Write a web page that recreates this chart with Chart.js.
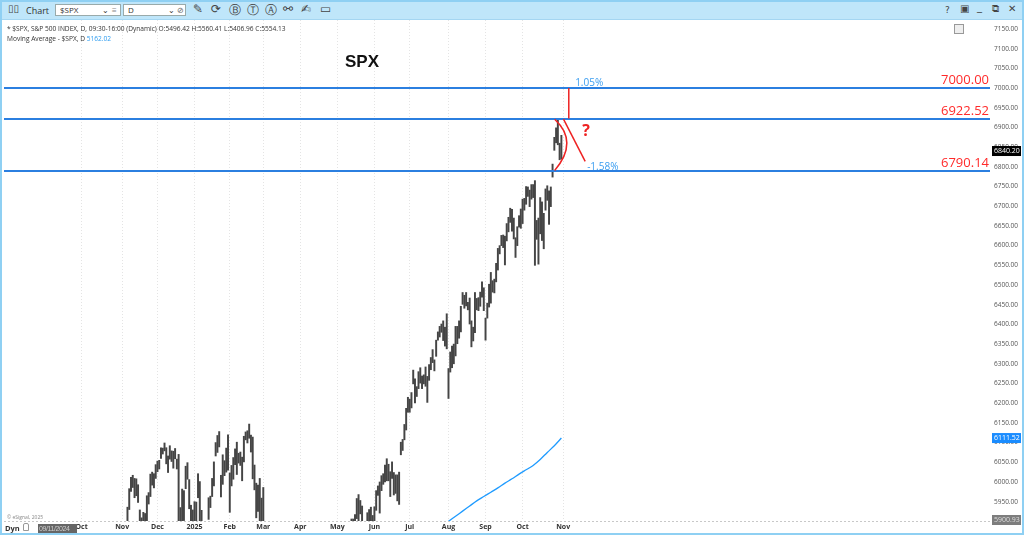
<!DOCTYPE html>
<html>
<head>
<meta charset="utf-8">
<script src="https://cdn.jsdelivr.net/npm/chart.js@4.4.1/dist/chart.umd.min.js"></script>
<style>
html,body{margin:0;padding:0;background:#fff;overflow:hidden}
#wrap{position:relative;width:1024px;height:535px;font-family:"Open Sans","Noto Sans",sans-serif;color:#333}
#c{position:absolute;left:0;top:0}
#bar{position:absolute;left:0;top:0;width:1024px;height:20px;background:#bfe6fa;border-bottom:1px solid #a4d6f2;box-sizing:border-box}
#frame{position:absolute;left:0;top:0;width:1024px;height:535px;border:2px solid #8fd0f3;box-sizing:border-box;pointer-events:none}
.t{position:absolute;white-space:nowrap}
.box{position:absolute;top:4px;height:12px;background:#fff;border:1px solid #9aa;box-sizing:border-box;font-size:8px;line-height:10px;padding-left:4px}
.ic{position:absolute;top:2px;font-size:12px;color:#444;font-family:"DejaVu Sans",sans-serif}
.hdr{position:absolute;left:7px;font-size:6.6px;color:#333;white-space:nowrap}
</style>
</head>
<body>
<div id="wrap">
<canvas id="c" width="1024" height="535"></canvas>
<div id="bar">
  <span class="ic" style="left:8px;top:3px;font-size:10px">▯▯</span>
  <span class="t" style="left:26px;top:4px;font-size:9px;color:#333">Chart</span>
  <div class="box" style="left:55px;width:66px">$SPX<span class="t" style="left:46px;top:0">⌄</span><span class="t" style="left:56px;top:0;color:#888">≡</span></div>
  <div class="box" style="left:123px;width:63px">D<span class="t" style="left:44px;top:0">⌄</span><span class="t" style="left:53px;top:0;color:#666">⊘</span></div>
  <span class="ic" style="left:193px">✎</span>
  <span class="ic" style="left:211px">⟳</span>
  <span class="ic" style="left:229px">Ⓑ</span>
  <span class="ic" style="left:247px">Ⓣ</span>
  <span class="ic" style="left:265px">Ⓐ</span>
  <span class="ic" style="left:283px">⚯</span>
  <span class="ic" style="left:301px">✍</span>
  <span class="ic" style="left:320px">▭</span>
  <span class="ic" style="left:945px;font-size:9px;top:5px">?</span>
  <span class="ic" style="left:960px;font-size:10px;top:3px">▣</span>
  <span class="ic" style="left:977px;font-size:10px;top:1px">_</span>
  <span class="ic" style="left:992px;font-size:10px;top:3px">⧉</span>
  <span class="ic" style="left:1008px;font-size:10px;top:3px">✕</span>
</div>
<div class="hdr" style="top:24px">* $SPX, S&amp;P 500 INDEX, D, 09:30-16:00 (Dynamic) O:5496.42 H:5560.41 L:5406.96 C:5554.13</div>
<div class="hdr" style="top:34px">Moving Average - $SPX, D <span style="color:#2d9cf0">5162.02</span></div>
<div class="t" style="left:954px;top:24px;width:8px;height:8px;border:1px solid #999;background:#eee"></div>
<div class="t" style="left:7px;top:514px;font-size:5px;color:#888">© eSignal, 2025</div>
<div class="t" style="left:5px;top:523px;font-size:7.5px;font-weight:bold;color:#333">Dyn</div>
<div class="t" style="left:23px;top:523px;width:6px;height:8px;border:1px solid #999;border-radius:2px 2px 0 0;box-sizing:border-box"></div>
<div class="t" style="left:38px;top:524px;width:39px;height:9px;background:#666"></div>
<div class="t" style="left:39px;top:524px;color:#ccc;font-size:7px;line-height:9px;letter-spacing:-0.4px;font-family:'Liberation Sans',sans-serif">09/11/2024</div>
<div id="frame"></div>
</div>
<script>
// daily bars, trading-day index 0 = 09/11/2024
const firstIdx = 37
const highs = [
  // Nov 2024
  5772,5741,5783,5936,5983,6012,6017,6009,6008,5993,5929,5909,5923,5920,5965,5973,6020,6025,6021,6044,
  // Dec
  6053,6055,6087,6086,6099,6087,6066,6092,6079,6078,6085,6058,6070,5935,5982,5978,6040,6049,6006,5941,5929,
  // Jan 2025
  5950,5949,6021,6001,5928,5890,5846,5871,5960,5964,6009,6051,6100,6118,6128,6017,6069,6054,6086,6120,
  // Feb
  6023,6042,6062,6084,6101,6073,6076,6063,6116,6127,6130,6147,6119,6114,6043,5997,5992,6009,5959,
  // Mar
  5986,5866,5860,5812,5786,5705,5636,5642,5597,5645,5703,5669,5716,5715,5670,5775,5786,5778,5732,5685,5611,
  // Apr
  5639,5695,5500,5292,5247,5267,5481,5446,5381,5460,5450,5367,5328,5232,5309,5469,5489,5528,5553,5571,5581,
  // May
  5658,5700,5683,5649,5667,5720,5692,5844,5906,5906,5917,5958,5968,5953,5939,5878,5835,5922,5930,5936,5915,
  // Jun
  5937,5978,5990,6000,6016,6021,6043,6059,6045,6026,6051,6024,6018,6018,6025,6101,6108,6146,6187,6215,
  // Jul
  6210,6227,6284,6262,6242,6280,6290,6269,6272,6292,6268,6298,6316,6336,6310,6360,6381,6395,6401,6409,6393,6427,
  // Aug
  6288,6330,6345,6350,6395,6395,6409,6446,6481,6474,6481,6456,6467,6409,6393,6481,6466,6468,6482,6508,6493,
  // Sep
  6416,6454,6502,6532,6511,6515,6555,6593,6600,6626,6627,6624,6656,6672,6695,6692,6670,6620,6648,6676,6693,
  // Oct
  6718,6720,6750,6749,6741,6755,6755,6765,6664,6670,6722,6711,6682,6744,6752,6739,6749,6807,6875,6899,6920,6860,6880
]
const lows = [
  5723,5696,5713,5864,5930,5976,5986,5960,5965,5948,5853,5865,5850,5860,5885,5944,5963,5992,5985,6009,
  6026,6033,6060,6071,6079,6046,6024,6058,6052,6035,6059,6033,5867,5866,5832,5902,5983,6007,5932,5879,5868,
  5830,5888,5960,5890,5874,5809,5773,5802,5905,5935,5963,5990,6066,6075,6089,5962,5994,6016,6025,6030,
  5923,5990,6007,6044,6019,6048,6042,6003,6051,6107,6099,6111,6076,6008,5980,5909,5925,5858,5837,
  5810,5732,5742,5711,5666,5564,5528,5546,5505,5563,5631,5603,5622,5651,5603,5732,5764,5692,5683,5572,5489,
  5539,5552,5390,5069,4835,4910,4857,5102,5220,5359,5386,5220,5255,5101,5207,5356,5371,5455,5468,5505,5433,
  5587,5631,5643,5590,5605,5650,5650,5775,5839,5867,5857,5907,5895,5919,5830,5830,5767,5839,5884,5876,5843,
  5862,5928,5966,5921,5978,5994,6000,6003,6003,5963,6009,5967,5971,5952,5943,6069,6080,6107,6132,6177,
  6177,6188,6249,6201,6217,6237,6251,6237,6249,6243,6202,6258,6285,6303,6282,6319,6360,6368,6380,6359,6345,6338,
  6212,6279,6290,6300,6320,6351,6365,6381,6451,6441,6447,6437,6401,6343,6358,6379,6437,6435,6446,6469,6435,
  6360,6416,6444,6454,6482,6480,6508,6538,6579,6600,6595,6551,6612,6635,6659,6637,6617,6570,6600,6647,6644,
  6656,6690,6705,6725,6699,6718,6722,6550,6616,6553,6630,6613,6592,6690,6715,6654,6699,6774,6842,6861,6856,6818,6820
]

// moving average
const maIdx  = [222,226,230,234,238,242,246,250,254,258,262,266,270,274,278,282,286]
const maVals = [5900,5913,5926,5939,5952,5963,5974,5985,5997,6008,6020,6031,6042,6057,6075,6092,6111.52]

// month ticks (trading-day index of first session)
const monthIdx    = [14,37,57,78,98,117,138,159,180,200,222,243,264,287]
const monthLabels = ['Oct','Nov','Dec','2025','Feb','Mar','Apr','May','Jun','Jul','Aug','Sep','Oct','Nov']

const yTicks = [5950,6000,6050,6100,6150,6200,6250,6300,6350,6400,6450,6500,6550,6600,6650,6700,6750,6800,6850,6900,6950,7000,7050,7100,7150]

const levels      = [7000.00, 6922.52, 6790.14]
const levelLabels = ['7000.00','6922.52','6790.14']
const tagValues   = [6840.20, 6111.52, 5900.93]
const tagLabels   = ['6840.20','6111.52','5900.93']

let bars = []
for(let i=0;i<highs.length;i++){
    bars.push({x:firstIdx+i, y:[lows[i],highs[i]]})
}
let ma = []
for(let i=0;i<maIdx.length;i++){
    ma.push({x:maIdx[i], y:maVals[i]})
}

const overlay = {
    id:'overlay',
    afterDatasetsDraw(chart){
        const {ctx, chartArea:a, scales:{x, y}} = chart
        ctx.save()
        // bottom dotted border
        ctx.strokeStyle = '#c8c8c8'; ctx.lineWidth = 1; ctx.setLineDash([2,2])
        ctx.beginPath(); ctx.moveTo(a.left, a.bottom+0.5); ctx.lineTo(a.right, a.bottom+0.5); ctx.stroke()
        ctx.setLineDash([])

        // horizontal levels
        levels.forEach((v,i) => {
            const py = Math.round(y.getPixelForValue(v))
            ctx.strokeStyle = '#2b7fe0'; ctx.lineWidth = 2
            ctx.beginPath(); ctx.moveTo(a.left, py); ctx.lineTo(a.right, py); ctx.stroke()
            ctx.fillStyle = '#ff2a2a'; ctx.font = '13px "Open Sans"'
            ctx.textAlign = 'right'; ctx.textBaseline = 'alphabetic'
            ctx.fillText(levelLabels[i], a.right-1, py-4)
        })

        // red drawings
        ctx.strokeStyle = '#ee2222'; ctx.lineWidth = 1.5
        ctx.beginPath()
        ctx.moveTo(x.getPixelForValue(290.2), y.getPixelForValue(7000))
        ctx.lineTo(x.getPixelForValue(290.2), y.getPixelForValue(6922.52))
        ctx.stroke()
        ctx.beginPath()
        ctx.moveTo(x.getPixelForValue(287.2), y.getPixelForValue(6921))
        ctx.lineTo(x.getPixelForValue(299.5), y.getPixelForValue(6814))
        ctx.stroke()
        ctx.beginPath()
        ctx.moveTo(x.getPixelForValue(282.2), y.getPixelForValue(6921))
        ctx.quadraticCurveTo(x.getPixelForValue(296), y.getPixelForValue(6864), x.getPixelForValue(282.2), y.getPixelForValue(6791))
        ctx.stroke()

        ctx.fillStyle = '#ee2222'; ctx.font = 'bold 16px "Open Sans"'
        ctx.textAlign = 'center'; ctx.textBaseline = 'middle'
        ctx.fillText('?', x.getPixelForValue(300), y.getPixelForValue(6890))

        // percent labels
        ctx.fillStyle = '#3a9df0'; ctx.font = '10px "Open Sans"'
        ctx.textAlign = 'left'; ctx.textBaseline = 'alphabetic'
        ctx.fillText('1.05%', x.getPixelForValue(293.8), y.getPixelForValue(7000)-2)
        ctx.fillText('-1.58%', x.getPixelForValue(300.6), y.getPixelForValue(6790.14)-1)

        // title
        ctx.fillStyle = '#111'; ctx.font = 'bold 17px "Liberation Sans"'
        ctx.textAlign = 'left'; ctx.textBaseline = 'middle'
        ctx.fillText('SPX', x.getPixelForValue(163.3), y.getPixelForValue(7066))
        ctx.restore()
    },
    afterDraw(chart){
        const {ctx, chartArea:a, scales:{y}} = chart
        const tagBg = ['#000000','#1a8cff','#7d7d7d']
        const tagFg = ['#ffffff','#ffffff','#dddddd']
        ctx.save()
        tagValues.forEach((v,i) => {
            let py = Math.min(y.getPixelForValue(v), a.bottom-1)
            ctx.fillStyle = tagBg[i]
            ctx.fillRect(a.right+2, py-5, 29, 10)
            ctx.fillStyle = tagFg[i]; ctx.font = '7px "Open Sans"'
            ctx.textAlign = 'left'; ctx.textBaseline = 'middle'
            ctx.fillText(tagLabels[i], a.right+4, py)
        })
        ctx.restore()
    }
}

function load_spx_chart(){
    const ctx = document.getElementById('c').getContext('2d');
    const myChart = new Chart(ctx, {
    type: 'bar',
    data: {
        datasets: [{
            type: 'bar',
            label: 'SPX',
            data: bars,
            backgroundColor: '#454545',
            borderWidth: 0,
            barThickness: 1.3,
            grouped: false,
            order: 2
        },{
            type: 'line',
            label: 'Moving Average',
            data: ma,
            borderColor: '#1f9bff',
            borderWidth: 1.3,
            pointRadius: 0,
            tension: 0.3,
            order: 1
        }]
    },
    options: {
        responsive: false,
        animation: false,
        layout: { padding: {left: 4, top: 20, right: 0, bottom: 0} },
        plugins: { legend: {display: false}, tooltip: {enabled: false} },
        scales: {
            x: {
                type: 'linear',
                offset: false,
                min: -30,
                max: 529,
                afterBuildTicks: s => { s.ticks = monthIdx.map(v => ({value: v})) },
                afterFit: s => { s.height = 14 },
                ticks: {
                    autoSkip: false, maxRotation: 0, padding: 2,
                    color: '#333', font: {family: 'Open Sans', size: 7, weight: 'bold'},
                    callback: (v, i) => monthLabels[i]
                },
                grid: { color: '#e4e4e4', drawTicks: false, offset: false },
                border: { display: false, dash: [1,2] }
            },
            y: {
                position: 'right',
                min: 5900.93,
                max: 7172.8,
                afterBuildTicks: s => { s.ticks = yTicks.map(v => ({value: v})) },
                afterFit: s => { s.width = 34 },
                ticks: {
                    padding: 4, color: '#555',
                    font: {family: 'Open Sans', size: 6.5},
                    callback: v => v.toFixed(2)
                },
                grid: { display: false, drawTicks: false },
                border: { display: false }
            }
        }
    },
    plugins: [overlay]
});
}

load_spx_chart()
</script>
</body>
</html>
